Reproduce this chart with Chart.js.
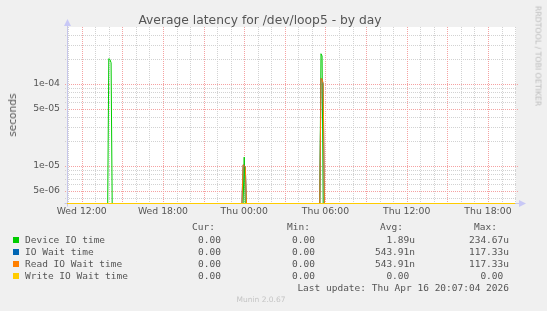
<!DOCTYPE html>
<html>
<head>
<meta charset="utf-8">
<script src="https://cdn.jsdelivr.net/npm/chart.js@4.4.1/dist/chart.umd.min.js"></script>
<style>
    html, body { margin: 0; padding: 0; background: #f0f0f0; }
    #wrap { position: relative; width: 547px; height: 311px; overflow: hidden; font-family: "DejaVu Sans", sans-serif; color: #555; }
    #chart { position: absolute; left: 0; top: 0; }
    .t { position: absolute; white-space: pre; line-height: 12px; height: 12px; }
    .mono { font-family: "DejaVu Sans Mono", monospace; font-size: 9.5px; }
    .box { position: absolute; width: 6px; height: 6px; }
    .rot { position: absolute; white-space: nowrap; }
</style>
</head>
<body>
<div id="wrap">
    <canvas id="chart" width="547" height="311"></canvas>
    <div class="t" id="title" style="left:0;width:520px;top:13px;line-height:14px;height:14px;text-align:center;font-size:12.3px">Average latency for /dev/loop5 - by day</div>
    <div class="rot" style="left:11.5px;top:115px;font-size:10.6px;transform:translate(-50%,-50%) rotate(-90deg)">seconds</div>
    <div class="rot" style="left:537.5px;top:56px;font-size:7.8px;color:#bbb;transform:translate(-50%,-50%) rotate(90deg)">RRDTOOL / TOBI OETIKER</div>
    <div id="legend"></div>
</div>
<script>
(function () {
    "use strict";

    // time axis in hours since Wed 00:00
    const X_MIN = 10.914;
    const X_MAX = 44.07;
    const Y_MIN = 3.47e-6;
    const Y_MAX = 4.98e-4;

    const xLabelHours = [12, 18, 24, 30, 36, 42];
    const xLabelTexts = ["Wed 12:00", "Wed 18:00", "Thu 00:00", "Thu 06:00", "Thu 12:00", "Thu 18:00"];
    const yLabelValues = [5e-6, 1e-5, 5e-5, 1e-4];
    const yLabelTexts = ["5e-06", "1e-05", "5e-05", "1e-04"];

    const seriesNames = ["Device IO time", "IO Wait time", "Read IO Wait time", "Write IO Wait time"];
    const seriesColors = ["#00cc00", "#0066b3", "#ff8000", "#ffcc00"];

    const deviceHours  = [10.92, 13.92, 14.00, 14.08, 14.17, 14.25, 23.92, 24.00, 24.08, 29.58, 29.67, 29.75, 29.83, 44.00];
    const deviceValues = [0, 0, 2.04e-4, 2.0e-4, 1.82e-4, 0, 0, 1.28e-5, 0, 0, 2.3467e-4, 2.2e-4, 0, 0];
    const ioWaitHours  = [10.92, 23.83, 23.92, 24.00, 24.08, 24.17, 29.58, 29.67, 29.75, 29.83, 29.92, 44.00];
    const ioWaitValues = [0, 0, 1.03e-5, 1.0e-5, 0.98e-5, 0, 0, 1.1733e-4, 1.15e-4, 1.0e-4, 0, 0];
    const readHours    = [10.92, 23.83, 23.92, 24.00, 24.08, 24.17, 29.58, 29.67, 29.75, 29.83, 29.92, 44.00];
    const readValues   = [0, 0, 1.03e-5, 1.0e-5, 0.98e-5, 0, 0, 1.1733e-4, 1.15e-4, 1.0e-4, 0, 0];
    const writeHours   = [10.92, 44.00];
    const writeValues  = [0, 0];

    const curText = ["0.00", "0.00", "0.00", "0.00"];
    const minText = ["0.00", "0.00", "0.00", "0.00"];
    const avgText = ["1.89u", "543.91n", "543.91n", "0.00 "];
    const maxText = ["234.67u", "117.33u", "117.33u", "0.00 "];
    const lastUpdate = "Last update: Thu Apr 16 20:07:04 2026";
    const version = "Munin 2.0.67";

    const GRID = "#d2d2d2";
    const MGRID = "#f5a2a2";
    const AXIS = "#c6c6ea";
    const FONT = "DejaVu Sans";

    function same(a, b) {
        return Math.abs(a - b) <= Math.abs(b) * 1e-6;
    }

    function points(hours, values) {
        // zero cannot sit on a log axis: put it on the floor like rrdtool does
        return hours.map((h, i) => ({ x: h, y: values[i] > 0 ? values[i] : Y_MIN }));
    }

    function hourTicks() {
        const list = [];
        for (let h = Math.ceil(X_MIN); h <= Math.floor(X_MAX); h++) list.push(h);
        return list;
    }

    function yGridValues() {
        const list = [];
        for (let e = Math.floor(Math.log10(Y_MIN)); e <= Math.ceil(Math.log10(Y_MAX)); e++) {
            for (let m = 1; m <= 9; m++) {
                const v = m * Math.pow(10, e);
                if (v >= Y_MIN && v <= Y_MAX) list.push(v);
            }
        }
        return list;
    }

    function yMajor(v) {
        const m = Math.round(v / Math.pow(10, Math.floor(Math.log10(v) + 1e-9)));
        return m === 1 || m === 5;
    }

    // dotted 1px lines, one dot every other pixel, like rrdtool grid-dash 1:1
    function dotsV(ctx, x, y1, y2) {
        for (let y = Math.round(y1); y < y2; y += 2) ctx.fillRect(x, y, 1, 1);
    }
    function dotsH(ctx, y, x1, x2) {
        for (let x = Math.round(x1); x < x2; x += 2) ctx.fillRect(x, y, 1, 1);
    }

    const frame = {
        id: "frame",
        beforeDraw(chart) {
            const { ctx, chartArea: a } = chart;
            ctx.save();
            ctx.fillStyle = "#ffffff";
            ctx.fillRect(a.left, a.top, a.right - a.left, a.bottom - a.top);
            ctx.restore();
        },
        beforeDatasetsDraw(chart) {
            const { ctx, chartArea: a } = chart;
            const xs = chart.scales.x;
            const ys = chart.scales.y;
            const x0 = Math.floor(a.left) + 0.5;
            const y0 = Math.floor(a.bottom) + 0.5;
            ctx.save();
            // minor lines first, majors on top
            [false, true].forEach(major => {
                ctx.fillStyle = major ? MGRID : GRID;
                hourTicks().forEach(h => {
                    if ((h % 3 === 0) !== major) return;
                    dotsV(ctx, Math.round(xs.getPixelForValue(h)), a.top, a.bottom);
                });
                yGridValues().forEach(v => {
                    if (yMajor(v) !== major) return;
                    dotsH(ctx, Math.round(ys.getPixelForValue(v)), a.left - 2, major ? a.right + 2 : a.right);
                });
            });
            ctx.strokeStyle = AXIS;
            ctx.lineWidth = 1;
            ctx.beginPath();
            ctx.moveTo(x0, y0 + 3);
            ctx.lineTo(x0, a.top - 4);
            ctx.moveTo(x0 - 3, y0);
            ctx.lineTo(a.right + 4, y0);
            ctx.stroke();
            ctx.fillStyle = "#c8c8f6";
            ctx.beginPath();
            ctx.moveTo(x0 - 3.5, a.top - 1);
            ctx.lineTo(x0 + 3.5, a.top - 1);
            ctx.lineTo(x0, a.top - 8);
            ctx.closePath();
            ctx.fill();
            ctx.beginPath();
            ctx.moveTo(a.right + 3, y0 - 3.5);
            ctx.lineTo(a.right + 3, y0 + 3.5);
            ctx.lineTo(a.right + 10, y0);
            ctx.closePath();
            ctx.fill();
            ctx.restore();
        }
    };

    const datasets = [
        { data: points(deviceHours, deviceValues), color: seriesColors[0], order: 3 },
        { data: points(ioWaitHours, ioWaitValues), color: seriesColors[1], order: 2 },
        { data: points(readHours, readValues), color: seriesColors[2], order: 1 },
        { data: points(writeHours, writeValues), color: seriesColors[3], order: 0 }
    ].map((d, i) => ({
        label: seriesNames[i],
        data: d.data,
        borderColor: d.color,
        backgroundColor: d.color,
        borderWidth: 1,
        pointRadius: 0,
        tension: 0,
        fill: false,
        order: d.order,
        clip: false
    }));

    new Chart(document.getElementById("chart"), {
        type: "line",
        data: { datasets },
        options: {
            responsive: false,
            animation: false,
            devicePixelRatio: 1,
            layout: { padding: { top: 27, right: 31, left: 0, bottom: 0 } },
            plugins: { legend: { display: false }, tooltip: { enabled: false }, title: { display: false } },
            scales: {
                x: {
                    type: "linear",
                    min: X_MIN,
                    max: X_MAX,
                    bounds: "data",
                    afterFit: scale => { scale.height = 107.5; },
                    afterBuildTicks: scale => {
                        scale.ticks = xLabelHours.map(h => ({ value: h }));
                    },
                    ticks: {
                        autoSkip: false,
                        maxRotation: 0,
                        padding: 3,
                        color: "#555",
                        font: { family: FONT, size: 9.3 },
                        callback: value => {
                            const i = xLabelHours.indexOf(value);
                            return i >= 0 ? xLabelTexts[i] : "";
                        }
                    },
                    grid: { display: false, drawTicks: false },
                    border: { display: false }
                },
                y: {
                    type: "logarithmic",
                    min: Y_MIN,
                    max: Y_MAX,
                    bounds: "data",
                    afterFit: scale => { scale.width = 67; },
                    afterBuildTicks: scale => {
                        scale.ticks = yLabelValues.map(v => ({ value: v }));
                    },
                    ticks: {
                        autoSkip: false,
                        padding: 7,
                        color: "#555",
                        font: { family: FONT, size: 9.3 },
                        callback: value => {
                            const i = yLabelValues.findIndex(v => same(value, v));
                            return i >= 0 ? yLabelTexts[i] : "";
                        }
                    },
                    grid: { display: false, drawTicks: false },
                    border: { display: false }
                }
            }
        },
        plugins: [frame]
    });

    function text(cls, str, style) {
        return `<div class="t ${cls}" style="${style}">${str}</div>`;
    }

    function renderLegend() {
        const right = x => `right:${547 - x}px;text-align:right;`;
        let html = "";
        const hy = 227.3 - 6;
        html += text("mono", "Cur:", right(215) + `top:${hy}px`);
        html += text("mono", "Min:", right(310) + `top:${hy}px`);
        html += text("mono", "Avg:", right(403) + `top:${hy}px`);
        html += text("mono", "Max:", right(497) + `top:${hy}px`);
        seriesNames.forEach((name, i) => {
            const c = 239.7 + i * 12;
            html += `<div class="box" style="left:13px;top:${c - 3}px;background:${seriesColors[i]}"></div>`;
            html += text("mono", name, `left:25px;top:${c - 6}px`);
            html += text("mono", curText[i], right(221) + `top:${c - 6}px`);
            html += text("mono", minText[i], right(315) + `top:${c - 6}px`);
            html += text("mono", avgText[i], right(415) + `top:${c - 6}px`);
            html += text("mono", maxText[i], right(509) + `top:${c - 6}px`);
        });
        html += text("mono", lastUpdate, right(509) + `top:${287.7 - 6}px`);
        html += text("", version, `left:0;width:522px;text-align:center;font-size:7.5px;color:#c4c4c4;top:${300.3 - 6}px`);
        document.getElementById("legend").innerHTML = html;
    }

    renderLegend();
})();
</script>
</body>
</html>
